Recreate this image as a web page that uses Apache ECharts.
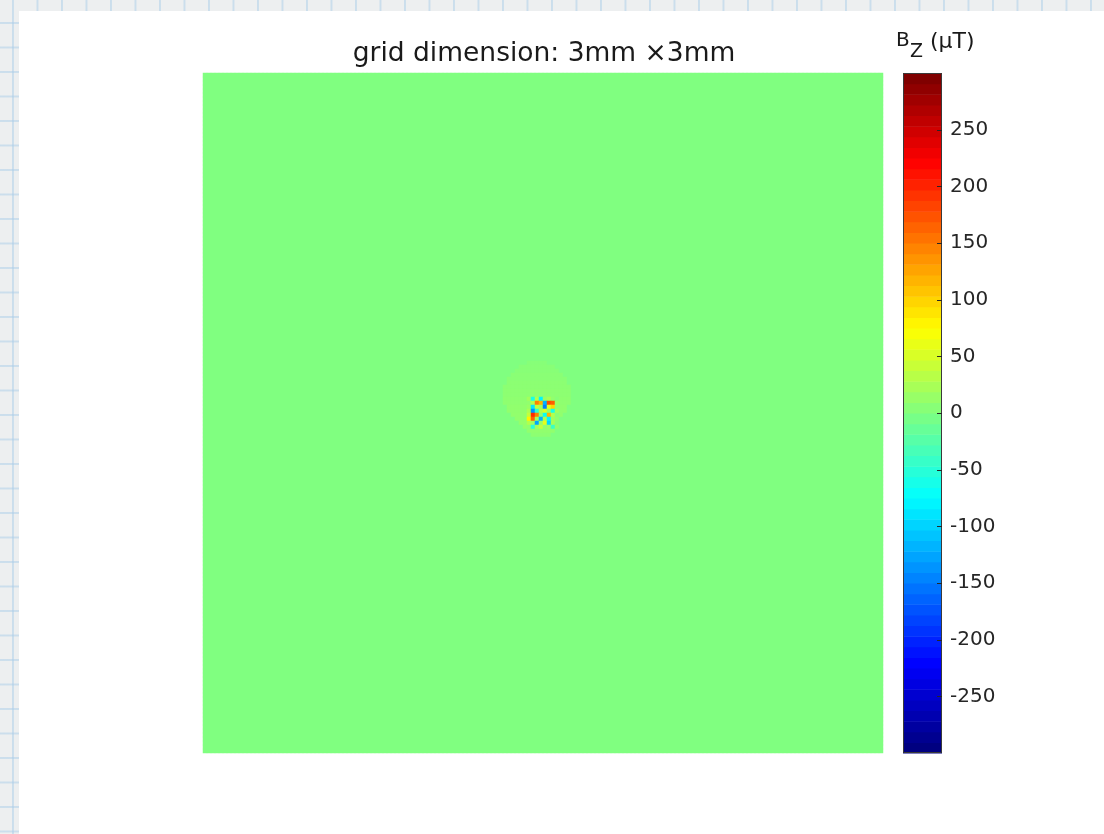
<!DOCTYPE html>
<html>
<head>
<meta charset="utf-8">
<title>grid dimension: 3mm ×3mm</title>
<script src="https://cdn.jsdelivr.net/npm/echarts@6/dist/echarts.min.js"></script>
<style>
  html, body { margin: 0; padding: 0; width: 1104px; height: 834px; overflow: hidden; }
  body {
    background-color: #edeff0;
    background-image:
      linear-gradient(to right, rgba(170, 205, 232, 0.5) 2px, transparent 2px),
      linear-gradient(to bottom, rgba(170, 205, 232, 0.5) 2px, transparent 2px);
    background-size: 24.5px 24.5px;
    background-position: 12px 22px;
  }
  #sheet { position: absolute; left: 19px; top: 11px; right: 0; bottom: 0; background: #ffffff; }
  #chart { position: absolute; left: 0; top: 0; width: 1104px; height: 834px; }
</style>
</head>
<body>
<div id="sheet"></div>
<div id="chart"></div>
<script>
// ---- Field definition (B_z in µT) ----
// Number of cells along each side of the square map.
const GRID_N = 170;
// Background field value.
const BASE_VALUE = 0;
// Weak positive halo around the source: [row, firstCol, lastCol, value].
const haloSpans = [
  [72, 81, 85, 4],
  [73, 79, 87, 5],
  [74, 78, 88, 5],
  [75, 77, 89, 6],
  [76, 76, 90, 6],
  [77, 76, 90, 7],
  [78, 75, 91, 7],
  [79, 75, 91, 8],
  [80, 75, 91, 8],
  [81, 75, 91, 9],
  [82, 75, 91, 9],
  [83, 76, 90, 10],
  [84, 76, 90, 10],
  [85, 77, 89, 11],
  [86, 78, 88, 11],
  [87, 79, 87, 12],
  [88, 80, 88, 12],
  [89, 81, 87, 10],
  [90, 82, 86, 8]
];
// Strongly varying core, top-left cell at (PATCH_ROW0, PATCH_COL0).
const PATCH_ROW0 = 81;
const PATCH_COL0 = 81;
const patchValues = [
  [ 20,  -60,   30,  -80,   15,   25,   10,   5],
  [ 10,   30,  150,  120, -120,  180,  170,  15],
  [ 15,  -90,   40,   20, -150,   60,  100,  10],
  [ 25, -140,  -50,   30,   50,   10,  -60,  20],
  [ 40,  200,  150,   10,  -70,  120,   30,   5],
  [ 80,  170,   20, -120,   30,  -80,   20,  10],
  [ 30,   20, -130,   15,   60, -100,   25,   5],
  [ 10,  -50,   20,   40,   10,   15,  -40,  10]
];

// ---- Colour scale ----
const CBAR_MIN = -300;
const CBAR_MAX = 300;
const CBAR_LEVELS = 64;
const CBAR_INTERVAL = 50;
const CBAR_TICKS = [-250, -200, -150, -100, -50, 0, 50, 100, 150, 200, 250];

const TITLE = 'grid dimension: 3mm \u00d73mm';
const CBAR_LABEL_MAIN = 'B';
const CBAR_LABEL_SUB = 'Z';
const CBAR_LABEL_UNIT = '(\u03bcT)';

// MATLAB-style jet colormap
function jet(t) {
  const c = v => Math.round(255 * Math.max(0, Math.min(1, v)));
  const r = 1.5 - Math.abs(4 * t - 3);
  const g = 1.5 - Math.abs(4 * t - 2);
  const b = 1.5 - Math.abs(4 * t - 1);
  return 'rgb(' + c(r) + ',' + c(g) + ',' + c(b) + ')';
}
const JET = [];
for (let i = 0; i < CBAR_LEVELS; i++) JET.push(jet(i / (CBAR_LEVELS - 1)));

// Assemble the map
const field = [];
for (let r = 0; r < GRID_N; r++) field.push(new Array(GRID_N).fill(BASE_VALUE));
haloSpans.forEach(([row, c0, c1, v]) => {
  for (let c = c0; c <= c1; c++) field[row][c] = v;
});
patchValues.forEach((rowVals, i) => {
  rowVals.forEach((v, j) => { field[PATCH_ROW0 + i][PATCH_COL0 + j] = v; });
});
const heatData = [];
for (let r = 0; r < GRID_N; r++) {
  for (let c = 0; c < GRID_N; c++) heatData.push([c, r, field[r][c]]);
}
const cellIds = [];
for (let i = 0; i < GRID_N; i++) cellIds.push(String(i));

// Colour bar blocks
const cbarStep = (CBAR_MAX - CBAR_MIN) / CBAR_LEVELS;
const cbarData = [];
for (let i = 0; i < CBAR_LEVELS; i++) {
  cbarData.push([CBAR_MIN + i * cbarStep, CBAR_MIN + (i + 1) * cbarStep, i]);
}

const FONT = '"DejaVu Sans", "Liberation Sans", sans-serif';
const TEXT_COLOR = '#262626';

const chart = echarts.init(document.getElementById('chart'), null, { renderer: 'canvas' });
chart.setOption({
  animation: false,
  backgroundColor: 'transparent',
  grid: [
    { left: 203, top: 73, width: 680, height: 680, show: false },
    { left: 903, top: 73, width: 39, height: 680, show: false }
  ],
  xAxis: [
    { type: 'category', data: cellIds, gridIndex: 0, show: false },
    { type: 'value', gridIndex: 1, min: 0, max: 1, show: false }
  ],
  yAxis: [
    { type: 'category', data: cellIds, gridIndex: 0, inverse: true, show: false },
    { type: 'value', gridIndex: 1, min: CBAR_MIN, max: CBAR_MAX, interval: CBAR_INTERVAL,
      position: 'right',
      axisLine: { show: false },
      axisTick: { show: false },
      axisLabel: { show: true, margin: 8, fontSize: 20, fontFamily: FONT, color: TEXT_COLOR,
                   showMinLabel: false, showMaxLabel: false },
      splitLine: { show: false } }
  ],
  visualMap: {
    type: 'continuous', show: false, seriesIndex: 0,
    min: CBAR_MIN, max: CBAR_MAX, inRange: { color: JET }
  },
  series: [
    {
      type: 'heatmap', xAxisIndex: 0, yAxisIndex: 0,
      data: heatData, progressive: 0, silent: true,
      itemStyle: { borderWidth: 0 },
      emphasis: { disabled: true }
    },
    {
      // colour bar blocks
      type: 'custom', xAxisIndex: 1, yAxisIndex: 1, silent: true, z: 1,
      data: cbarData,
      renderItem: function (params, api) {
        const lo = api.value(0), hi = api.value(1), idx = api.value(2);
        const p0 = api.coord([0, hi]);
        const p1 = api.coord([1, lo]);
        return {
          type: 'rect',
          shape: { x: p0[0], y: p0[1], width: p1[0] - p0[0], height: p1[1] - p0[1] + 0.5 },
          style: { fill: JET[idx] }
        };
      }
    },
    {
      // colour bar outline
      type: 'custom', xAxisIndex: 1, yAxisIndex: 1, silent: true, z: 3,
      data: [[CBAR_MIN, CBAR_MAX]],
      renderItem: function (params, api) {
        const p0 = api.coord([0, api.value(1)]);
        const p1 = api.coord([1, api.value(0)]);
        return {
          type: 'rect',
          shape: { x: p0[0] + 0.5, y: p0[1] + 0.5, width: p1[0] - p0[0] - 1, height: p1[1] - p0[1] - 1 },
          style: { fill: 'none', stroke: '#3a3a3a', lineWidth: 1 }
        };
      }
    },
    {
      // colour bar ticks, pointing inward from the right edge
      type: 'custom', xAxisIndex: 1, yAxisIndex: 1, silent: true, z: 4,
      data: CBAR_TICKS.map(v => [v]),
      renderItem: function (params, api) {
        const p = api.coord([1, api.value(0)]);
        const y = Math.round(p[1]) + 0.5;
        return {
          type: 'line',
          shape: { x1: p[0] - 5, y1: y, x2: p[0], y2: y },
          style: { stroke: '#262626', lineWidth: 1 }
        };
      }
    }
  ],
  graphic: [
    { type: 'text', x: 544, y: 54, silent: true,
      style: { text: TITLE, fontSize: 26.5, fontFamily: FONT, fill: '#1a1a1a', align: 'center', verticalAlign: 'middle' } },
    { type: 'text', x: 896, y: 41, silent: true,
      style: { text: CBAR_LABEL_MAIN, fontSize: 20, fontFamily: FONT, fill: '#1a1a1a', align: 'left', verticalAlign: 'middle' } },
    { type: 'text', x: 910, y: 52, silent: true,
      style: { text: CBAR_LABEL_SUB, fontSize: 19, fontFamily: FONT, fill: '#1a1a1a', align: 'left', verticalAlign: 'middle' } },
    { type: 'text', x: 930, y: 42, silent: true,
      style: { text: CBAR_LABEL_UNIT, fontSize: 22, fontFamily: FONT, fill: '#1a1a1a', align: 'left', verticalAlign: 'middle' } }
  ]
});
</script>
</body>
</html>
